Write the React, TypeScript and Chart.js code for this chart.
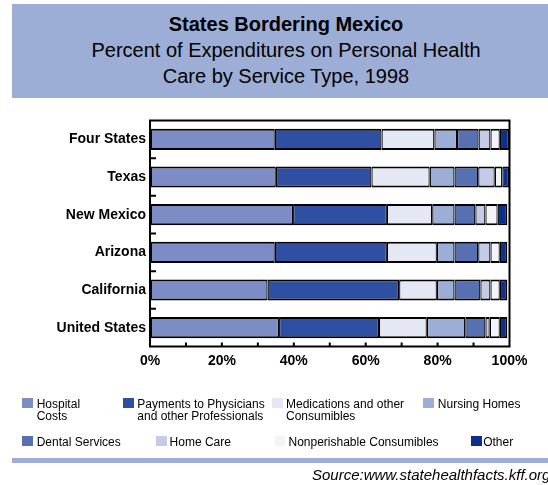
import React, { useEffect, useRef } from "react";
import { Chart, registerables } from "chart.js";

Chart.register(...registerables);

const categories = ["Four States", "Texas", "New Mexico", "Arizona", "California", "United States"];

const seriesNames = [
  "Hospital\nCosts",
  "Payments to Physicians\nand other Professionals",
  "Medications and other\nConsumibles",
  "Nursing Homes",
  "Dental Services",
  "Home Care",
  "Nonperishable Consumibles",
  "Other",
];

const hospitalCosts = [34.7, 35.0, 39.8, 34.7, 32.7, 35.9];
const physicians = [29.7, 26.6, 26.1, 31.2, 36.6, 27.8];
const medications = [14.7, 16.2, 12.6, 13.9, 10.5, 13.3];
const nursingHomes = [6.3, 6.9, 6.2, 4.9, 4.9, 10.7];
const dentalServices = [6.0, 6.6, 5.8, 6.6, 7.2, 5.6];
const homeCare = [3.3, 4.6, 2.8, 3.4, 2.8, 1.2];
const nonperishable = [2.6, 2.1, 3.4, 2.6, 2.6, 2.8];
const other = [2.7, 2.0, 2.7, 2.1, 2.1, 2.1];

const seriesValues = [
  hospitalCosts,
  physicians,
  medications,
  nursingHomes,
  dentalServices,
  homeCare,
  nonperishable,
  other,
];

const colors = ["#7C8CC4", "#2F4FA2", "#E4E8F4", "#9CAED6", "#5770B2", "#C3CBE6", "#F3F4F9", "#0C2F8E"];

const FONT = "Arial, 'Liberation Sans', Helvetica, sans-serif";

const legendItems = [
  { s: 0, sx: 22, sy: 397.5, tx: 36.7, ty: 399.4 },
  { s: 1, sx: 123.3, sy: 397.5, tx: 137.3, ty: 399.4 },
  { s: 2, sx: 272, sy: 397.5, tx: 286, ty: 399.4 },
  { s: 3, sx: 423, sy: 397.5, tx: 437.8, ty: 399.4 },
  { s: 4, sx: 22, sy: 435.7, tx: 36.7, ty: 436.8 },
  { s: 5, sx: 156, sy: 435.7, tx: 169.6, ty: 436.8 },
  { s: 6, sx: 274.5, sy: 435.7, tx: 288.5, ty: 436.8 },
  { s: 7, sx: 471, sy: 435.7, tx: 483.2, ty: 436.8 },
];

const framePlugin = {
  id: "frameTicks",
  afterDraw(chart: any) {
    const { ctx, chartArea } = chart;
    const { left, top, right, bottom } = chartArea;
    const xs = chart.scales.x;
    const ys = chart.scales.y;
    ctx.save();
    ctx.strokeStyle = "#000";
    ctx.lineWidth = 2;
    ctx.strokeRect(left, top, right - left, bottom - top);
    ctx.beginPath();
    for (let i = 1; i < categories.length; i++) {
      const y = (ys.getPixelForValue(i - 1) + ys.getPixelForValue(i)) / 2;
      ctx.moveTo(left, y);
      ctx.lineTo(left + 6, y);
    }
    xs.ticks.forEach((t: any) => {
      if (t.value <= 0 || t.value >= 100) return;
      const x = xs.getPixelForValue(t.value);
      ctx.moveTo(x, bottom);
      ctx.lineTo(x, bottom - 4);
    });
    ctx.stroke();
    ctx.restore();
  },
};

function ChartCanvas() {
  const ref = useRef<HTMLCanvasElement | null>(null);
  useEffect(() => {
    if (!ref.current) return;
    const last = seriesValues.length - 1;
    const chart = new Chart(ref.current, {
      type: "bar",
      data: {
        labels: categories,
        datasets: seriesValues.map((vals, i) => ({
          label: seriesNames[i],
          data: vals,
          backgroundColor: colors[i],
          borderColor: "#000",
          borderWidth: { top: 2, bottom: 2, left: i === 0 ? 2 : 1.25, right: i === last ? 2 : 1.25 },
          borderSkipped: false,
          barPercentage: 0.56,
          categoryPercentage: 1,
        })),
      },
      options: {
        indexAxis: "y",
        responsive: false,
        maintainAspectRatio: false,
        animation: false,
        layout: { padding: { left: 0, right: 38.5, top: 120.5, bottom: 108.5 } },
        plugins: { legend: { display: false }, tooltip: { enabled: false }, title: { display: false } },
        scales: {
          x: {
            stacked: true,
            min: 0,
            max: 100,
            grid: { display: false, drawTicks: false },
            border: { display: false },
            ticks: {
              stepSize: 10,
              padding: 6,
              color: "#000",
              font: { family: FONT, size: 14, weight: "bold" },
              callback: (v: any) => (Number(v) % 20 === 0 ? v + "%" : ""),
              maxRotation: 0,
              autoSkip: false,
            },
            afterFit: (s: any) => {
              s.height = 30;
            },
          },
          y: {
            stacked: true,
            grid: { display: false, drawTicks: false },
            border: { display: false },
            ticks: {
              padding: 4,
              color: "#000",
              font: { family: FONT, size: 14, weight: "bold" },
            },
            afterFit: (s: any) => {
              s.width = 150;
            },
          },
        },
      },
      plugins: [framePlugin],
    } as any);
    return () => chart.destroy();
  }, []);
  return <canvas ref={ref} width={548} height={485} style={{ position: "absolute", left: 0, top: 0 }} />;
}

export default function App() {
  return (
    <div
      style={{
        position: "fixed",
        left: 0,
        top: 0,
        width: 548,
        height: 485,
        overflow: "hidden",
        background: "#fff",
        fontFamily: FONT,
        color: "#000",
      }}
    >
      <div
        style={{
          position: "absolute",
          left: 12,
          top: 4,
          width: 548,
          height: 94,
          background: "#9DAED6",
          textAlign: "center",
          boxSizing: "border-box",
          paddingTop: 7,
          fontSize: 20,
          lineHeight: "26px",
        }}
      >
        <div style={{ fontWeight: "bold" }}>States Bordering Mexico</div>
        <div>Percent of Expenditures on Personal Health</div>
        <div>Care by Service Type, 1998</div>
      </div>
      <ChartCanvas />
      {legendItems.map((it) => (
        <React.Fragment key={it.s}>
          <div
            style={{
              position: "absolute",
              left: it.sx,
              top: it.sy,
              width: 10.5,
              height: 10.5,
              background: colors[it.s],
            }}
          />
          <div
            style={{
              position: "absolute",
              left: it.tx,
              top: it.ty,
              fontSize: 12,
              lineHeight: "11.5px",
              whiteSpace: "pre",
            }}
          >
            {seriesNames[it.s]}
          </div>
        </React.Fragment>
      ))}
      <div
        style={{ position: "absolute", left: 12, top: 458.3, width: 548, height: 4.5, background: "#9DAED6" }}
      />
      <div
        style={{
          position: "absolute",
          left: 312,
          top: 466,
          fontSize: 15,
          lineHeight: "17px",
          fontStyle: "italic",
          whiteSpace: "nowrap",
        }}
      >
        Source:www.statehealthfacts.kff.org
      </div>
    </div>
  );
}
